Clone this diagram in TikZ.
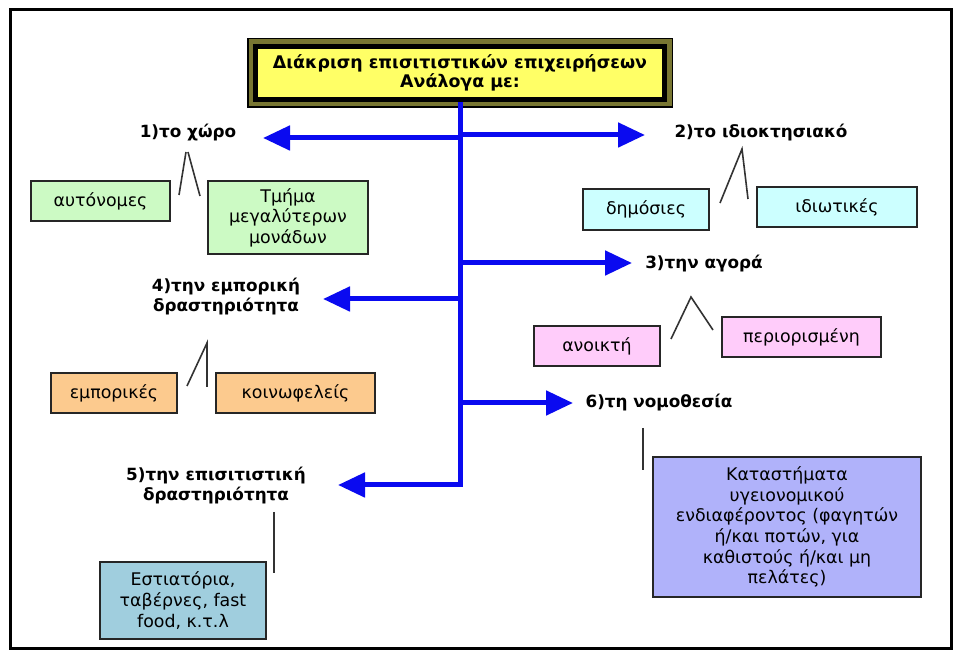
\documentclass[tikz,border=0pt]{standalone}
\usepackage{fontspec}
\setmainfont{DejaVu Sans}
\usetikzlibrary{arrows.meta, calc, positioning}
\definecolor{titleyellow}{RGB}{255,255,102}
\definecolor{titleband}{RGB}{120,118,50}
\definecolor{arrowblue}{RGB}{10,10,240}
\definecolor{spacegreen}{RGB}{204,250,196}
\definecolor{ownercyan}{RGB}{204,255,255}
\definecolor{marketpink}{RGB}{255,204,250}
\definecolor{tradeorange}{RGB}{252,202,142}
\definecolor{foodteal}{RGB}{160,206,222}
\definecolor{lawlilac}{RGB}{176,178,250}

\begin{document}
\begin{tikzpicture}[x=0.5pt, y=-0.5pt,
    heading/.style={font=\bfseries\fontsize{8.7}{9.5}\selectfont, align=center,
      minimum width=204.5pt, minimum height=26.5pt, inner sep=0pt,
      fill=titleyellow, draw=black, line width=2.5pt,
      preaction={draw=black, line width=8.5pt},
      preaction={draw=titleband, line width=7pt}},
    lbl/.style={font=\bfseries\fontsize{8.4}{10}\selectfont, align=center, inner sep=0pt},
    box/.style={draw=black!85, line width=0.8pt, inner sep=0pt, align=center,
      font=\fontsize{8.7}{10.3}\selectfont},
    bluearrow/.style={arrowblue, line width=2.5pt, -{Triangle[length=13.5pt, width=12pt]}},
    tick/.style={black!80, line width=0.8pt}]
    \useasboundingbox (0,0) rectangle (958,656);

    % Frame
    \draw[line width=1.5pt] (10.5,9.5) rectangle (951,648.5);

    % Heading
    \node[heading] (title) at (460,73) {Διάκριση επισιτιστικών επιχειρήσεων\\Ανάλογα με:};

    % Criteria
    \node[lbl] (space) at (188,133) {1)το χώρο};
    \node[lbl] (owner) at (761,133) {2)το ιδιοκτησιακό};
    \node[lbl] (market) at (704,264) {3)την αγορά};
    \node[lbl] (trade) at (226,297) {4)την εμπορική\\δραστηριότητα};
    \node[lbl] (food) at (216,486) {5)την επισιτιστική\\δραστηριότητα};
    \node[lbl] (law) at (659,403) {6)τη νομοθεσία};

    % Arrow tips
    \coordinate (tip1) at (263,138);
    \coordinate (tip2) at (645,135);
    \coordinate (tip3) at (632,263);
    \coordinate (tip4) at (323,299);
    \coordinate (tip5) at (338,485);
    \coordinate (tip6) at (573,403);

    % Blue trunk and branches
    \draw[bluearrow] (title.south) -- (title.south |- tip5) -- (tip5);
    \draw[bluearrow] (title.south |- tip1) -- (tip1);
    \draw[bluearrow] (title.south |- tip2) -- (tip2);
    \draw[bluearrow] (title.south |- tip3) -- (tip3);
    \draw[bluearrow] (title.south |- tip4) -- (tip4);
    \draw[bluearrow] (title.south |- tip6) -- (tip6);

    % 1) space
    \node[box, fill=spacegreen, minimum width=69.5pt, minimum height=20pt] (auto) at (100.5,201) {αυτόνομες};
    \node[box, fill=spacegreen, minimum width=80pt, minimum height=36.5pt] (part) at (288,217.5) {Τμήμα\\μεγαλύτερων\\μονάδων};
    \draw[tick] (179,195) -- (186,152);
    \draw[tick] (188,152) -- (200,196);

    % 2) ownership
    \node[box, fill=ownercyan, minimum width=63pt, minimum height=20.5pt] (public) at (646,209.5) {δημόσιες};
    \node[box, fill=ownercyan, minimum width=80pt, minimum height=20pt] (private) at (837,207) {ιδιωτικές};
    \draw[tick] (720,203) -- (742,149) -- (748,199);

    % 3) market
    \node[box, fill=marketpink, minimum width=63pt, minimum height=20pt] (open) at (597,346) {ανοικτή};
    \node[box, fill=marketpink, minimum width=79.5pt, minimum height=20pt] (closed) at (801.5,337) {περιορισμένη};
    \draw[tick] (671,339) -- (691,297) -- (713,330);

    % 4) trade
    \node[box, fill=tradeorange, minimum width=63pt, minimum height=20pt] (commerce) at (114,393) {εμπορικές};
    \node[box, fill=tradeorange, minimum width=79.5pt, minimum height=20pt] (welfare) at (295.5,393) {κοινωφελείς};
    \draw[tick] (187,386) -- (207,343) -- (207,387);

    % 5) catering
    \node[box, fill=foodteal, minimum width=83pt, minimum height=38.5pt] (rest) at (183,600.5) {Εστιατόρια,\\ταβέρνες, fast\\food, κ.τ.λ};
    \draw[tick] (274,512) -- (274,573);

    % 6) law
    \node[box, fill=lawlilac, minimum width=134pt, minimum height=70pt] (shops) at (787,527)
      {Καταστήματα\\υγειονομικού\\ενδιαφέροντος (φαγητών\\ή/και ποτών, για\\καθιστούς ή/και μη\\πελάτες)};
    \draw[tick] (643,428) -- (643,470);
\end{tikzpicture}
\end{document}
